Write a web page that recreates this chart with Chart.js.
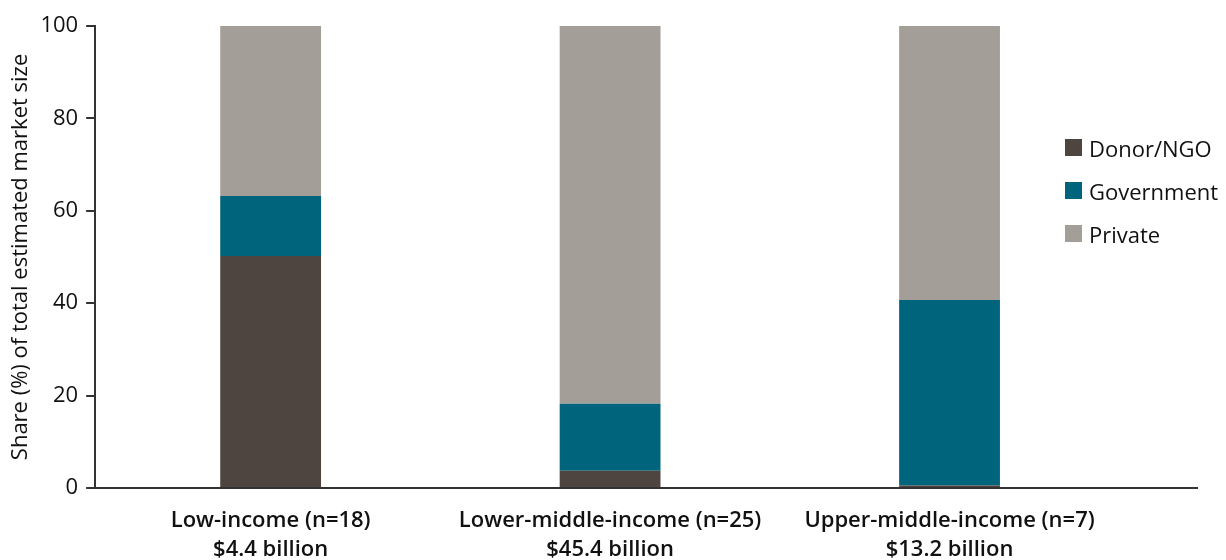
<!DOCTYPE html>
<html lang="en">
<head>
    <meta charset="UTF-8">
    <title>Share of total estimated market size</title>
    <script src="https://cdn.jsdelivr.net/npm/chart.js"></script>
    <style>
        body { margin: 0; background: #fff; font-family: "Open Sans", sans-serif; }
        .wrap { position: relative; width: 1226px; height: 560px; overflow: hidden; }
        .legend { position: absolute; left: 1065px; top: 126px; font-size: 22px; color: #111; }
        .legend div { height: 43px; display: flex; align-items: center; }
        .legend span { display: inline-block; width: 17px; height: 17px; margin-right: 7px; }
    </style>
</head>
<body>
    <div class="wrap">
        <canvas id="chart" width="1226" height="560"></canvas>
        <div class="legend" id="legend"></div>
    </div>

    <script>
        const categories = [
            ['Low-income (n=18)', '$4.4 billion'],
            ['Lower-middle-income (n=25)', '$45.4 billion'],
            ['Upper-middle-income (n=7)', '$13.2 billion']
        ];
        const donorNgo = [50.2, 3.7, 0.5];
        const government = [13.0, 14.5, 40.2];
        const privateShare = [36.8, 81.8, 59.3];
        const yTicks = [0, 20, 40, 60, 80, 100];

        const colors = { donor: '#4e4540', gov: '#00657c', priv: '#a39e98' };

        const toPoints = arr => arr.map((v, i) => ({ x: i, y: v }));

        const datasets = [
            { label: 'Donor/NGO', data: toPoints(donorNgo), backgroundColor: colors.donor },
            { label: 'Government', data: toPoints(government), backgroundColor: colors.gov },
            { label: 'Private', data: toPoints(privateShare), backgroundColor: colors.priv }
        ];

        // legend as html, sits inside the plot area like the original
        const legendEl = document.getElementById('legend');
        datasets.forEach(ds => {
            const row = document.createElement('div');
            row.innerHTML = `<span style="background:${ds.backgroundColor}"></span>${ds.label}`;
            legendEl.appendChild(row);
        });

        new Chart(document.getElementById('chart'), {
            type: 'bar',
            data: { datasets: datasets.map(ds => ({ ...ds, barPercentage: 0.297, categoryPercentage: 1 })) },
            options: {
                responsive: false,
                animation: false,
                layout: { padding: { top: 26, right: 29, bottom: -22, left: 0 } },
                plugins: { legend: { display: false }, tooltip: { enabled: false } },
                scales: {
                    x: {
                        type: 'linear',
                        stacked: true,
                        offset: false,
                        min: -0.517,
                        max: 2.729,
                        afterBuildTicks: scale => {
                            scale.ticks = categories.map((c, i) => ({ value: i }));
                        },
                        ticks: {
                            autoSkip: false,
                            maxRotation: 0,
                            padding: 18,
                            color: '#111',
                            font: { family: 'Open Sans', size: 22, weight: '600', lineHeight: 1.32 },
                            callback: v => categories[v]
                        },
                        grid: { display: false, drawTicks: false },
                        border: { display: true, color: '#333', width: 2 }
                    },
                    y: {
                        stacked: true,
                        min: 0,
                        max: 100,
                        afterBuildTicks: scale => {
                            scale.ticks = yTicks.map(v => ({ value: v }));
                        },
                        ticks: {
                            color: '#111',
                            padding: 8,
                            font: { family: 'Open Sans', size: 22 }
                        },
                        grid: { drawOnChartArea: false, drawTicks: true, tickLength: 9, color: '#333', lineWidth: 2 },
                        border: { display: true, color: '#333', width: 2 },
                        title: {
                            display: true,
                            text: 'Share (%) of total estimated market size',
                            color: '#111',
                            padding: { top: 8, bottom: -2 },
                            font: { family: 'Open Sans', size: 22 }
                        }
                    }
                }
            }
        });
    </script>
</body>
</html>
